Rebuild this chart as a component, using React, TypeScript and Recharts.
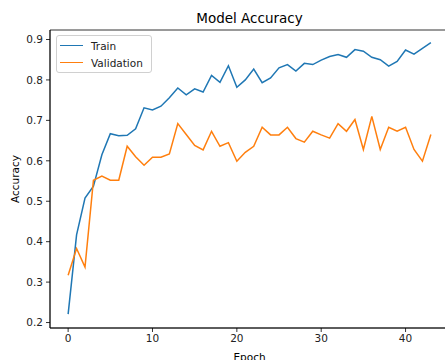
import { LineChart, Line, XAxis, YAxis, ReferenceArea, Legend } from 'recharts'

const epochs = Array.from({ length: 44 }, (_, i) => i)

const trainAcc = [
  0.221, 0.417, 0.508, 0.537, 0.615, 0.667, 0.662, 0.663, 0.679, 0.731,
  0.726, 0.735, 0.756, 0.78, 0.763, 0.778, 0.77, 0.811, 0.794, 0.835,
  0.782, 0.8, 0.827, 0.793, 0.805, 0.83, 0.838, 0.822, 0.841, 0.838,
  0.849, 0.858, 0.863, 0.856, 0.875, 0.871, 0.856, 0.85, 0.834, 0.846,
  0.874, 0.864, 0.878, 0.892,
]

const valAcc = [
  0.317, 0.383, 0.337, 0.552, 0.562, 0.552, 0.552, 0.636, 0.61, 0.589,
  0.609, 0.609, 0.617, 0.692, 0.665, 0.638, 0.627, 0.673, 0.636, 0.645,
  0.599, 0.621, 0.636, 0.683, 0.664, 0.664, 0.683, 0.655, 0.646, 0.673,
  0.664, 0.656, 0.692, 0.673, 0.702, 0.628, 0.71, 0.628, 0.683, 0.673,
  0.683, 0.628, 0.599, 0.665,
]

const xTicks = [0, 10, 20, 30, 40]
const yTicks = [0.2, 0.3, 0.4, 0.5, 0.6, 0.7, 0.8, 0.9]

const seriesNames = ['Train', 'Validation']
const seriesColors = ['#1f77b4', '#ff7f0e']

const data = epochs.map((e, i) => ({ epoch: e, train: trainAcc[i], val: valAcc[i] }))

// matplotlib-style 5% margins around the data range
const xDomain: [number, number] = [-2.15, 45.15]
const yDomain: [number, number] = [0.1865, 0.9235]

const FONT = '"DejaVu Sans", sans-serif'

function LegendBox() {
  return (
    <div
      style={{
        boxSizing: 'border-box',
        width: 96,
        height: 38,
        background: 'rgba(255,255,255,0.8)',
        border: '1px solid #d0d0d0',
        borderRadius: 3,
        padding: '1px 0 0 3px',
        fontFamily: FONT,
        fontSize: 10.5,
        color: '#222',
      }}
    >
      {seriesNames.map((name, i) => (
        <div key={name} style={{ display: 'flex', alignItems: 'center', height: 17 }}>
          <span
            style={{
              display: 'inline-block',
              width: 23,
              height: 1.6,
              background: seriesColors[i],
              marginRight: 8,
            }}
          />
          <span style={{ lineHeight: '12px' }}>{name}</span>
        </div>
      ))}
    </div>
  )
}

export default function App() {
  return (
    <div
      style={{
        position: 'absolute',
        left: 0,
        top: 0,
        width: 445,
        height: 360,
        overflow: 'hidden',
        background: '#fff',
        fontFamily: FONT,
      }}
    >
      <div
        style={{
          position: 'absolute',
          left: 50,
          width: 399,
          top: 10,
          textAlign: 'center',
          fontSize: 13.5,
          color: '#000',
          lineHeight: '16px',
        }}
      >
        Model Accuracy
      </div>
      <div
        style={{
          position: 'absolute',
          left: 15,
          top: 179,
          transform: 'translate(-50%, -50%) rotate(-90deg)',
          fontSize: 10.5,
          color: '#000',
          whiteSpace: 'nowrap',
          lineHeight: '13px',
        }}
      >
        Accuracy
      </div>
      <div
        style={{
          position: 'absolute',
          left: 50,
          width: 399,
          top: 350,
          textAlign: 'center',
          fontSize: 10.5,
          color: '#000',
          lineHeight: '14px',
        }}
      >
        Epoch
      </div>
      <LineChart width={460} height={360} data={data} margin={{ top: 30, right: 11, bottom: 0, left: 0 }}>
        <XAxis
          dataKey="epoch"
          type="number"
          domain={xDomain}
          ticks={xTicks}
          allowDataOverflow
          height={32}
          tickSize={4}
          tickMargin={3}
          tick={{ fill: '#222', fontSize: 10.5, fontFamily: FONT }}
          axisLine={{ stroke: '#000', strokeWidth: 0.8 }}
          tickLine={{ stroke: '#000', strokeWidth: 0.8 }}
        />
        <YAxis
          type="number"
          domain={yDomain}
          ticks={yTicks}
          allowDataOverflow
          width={50}
          tickSize={4}
          tickMargin={3}
          tickFormatter={(v: number) => v.toFixed(1)}
          tick={{ fill: '#222', fontSize: 10.5, fontFamily: FONT }}
          axisLine={{ stroke: '#000', strokeWidth: 0.8 }}
          tickLine={{ stroke: '#000', strokeWidth: 0.8 }}
        />
        <ReferenceArea
          x1={xDomain[0]}
          x2={xDomain[1]}
          y1={yDomain[0]}
          y2={yDomain[1]}
          fill="none"
          stroke="#000"
          strokeWidth={0.8}
          fillOpacity={0}
        />
        <Legend
          layout="horizontal"
          verticalAlign="middle"
          align="center"
          wrapperStyle={{ position: 'absolute', top: 35, left: 56, width: 'auto' }}
          content={() => <LegendBox />}
        />
        <Line
          type="linear"
          dataKey="train"
          name={seriesNames[0]}
          stroke={seriesColors[0]}
          strokeWidth={1.5}
          dot={false}
          isAnimationActive={false}
        />
        <Line
          type="linear"
          dataKey="val"
          name={seriesNames[1]}
          stroke={seriesColors[1]}
          strokeWidth={1.5}
          dot={false}
          isAnimationActive={false}
        />
      </LineChart>
    </div>
  )
}
